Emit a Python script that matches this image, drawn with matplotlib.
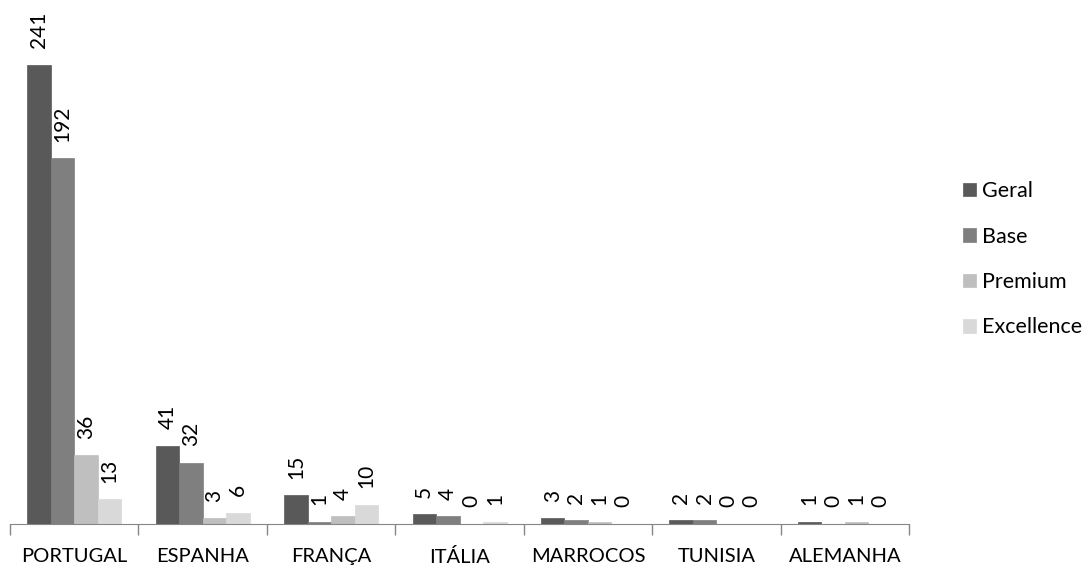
import matplotlib.pyplot as plt
import numpy as np

plt.rcParams['font.family'] = ['Lato', 'DejaVu Sans']

paises = ["PORTUGAL", "ESPANHA", "FRANÇA", "ITÁLIA", "MARROCOS", "TUNISIA", "ALEMANHA"]
geral = [241, 41, 15, 5, 3, 2, 1]
base = [192, 32, 1, 4, 2, 2, 0]
premium = [36, 3, 4, 0, 1, 0, 1]
excellence = [13, 6, 10, 1, 0, 0, 0]

series = [("Geral", geral, "#595959"),
          ("Base", base, "#7f7f7f"),
          ("Premium", premium, "#bfbfbf"),
          ("Excellence", excellence, "#d9d9d9")]

fig = plt.figure(figsize=(10.87, 5.65), dpi=100)
ax = fig.add_axes([0.0092, 0.0726, 0.8271, 0.8766])

x = np.arange(len(paises))
w = 0.183
for i, (nome, vals, cor) in enumerate(series):
    bars = ax.bar(x + (i - 1.5) * w, vals, w, color=cor, label=nome,
                  edgecolor=cor, linewidth=0.5)
    ax.bar_label(bars, rotation=90, padding=12, fontsize=15)

ax.set_xlim(-0.5, len(paises) - 0.5)
ax.set_ylim(0, 260)
ax.set_xticks(x)
ax.set_xticklabels(paises, fontsize=14.5)
ax.tick_params(axis='x', which='major', length=0, pad=17)
ax.set_xticks(np.arange(len(paises) + 1) - 0.5, minor=True)
ax.tick_params(axis='x', which='minor', length=8, color="#868686", width=1)
ax.set_yticks([])
for s in ["top", "right", "left"]:
    ax.spines[s].set_visible(False)
ax.spines["bottom"].set_color("#868686")

fig.legend(loc="center left", bbox_to_anchor=(0.868, 0.541), frameon=False,
           fontsize=15.5, handlelength=0.6, handleheight=0.6, handletextpad=0.3,
           labelspacing=1.18)

fig.savefig("out.png")
